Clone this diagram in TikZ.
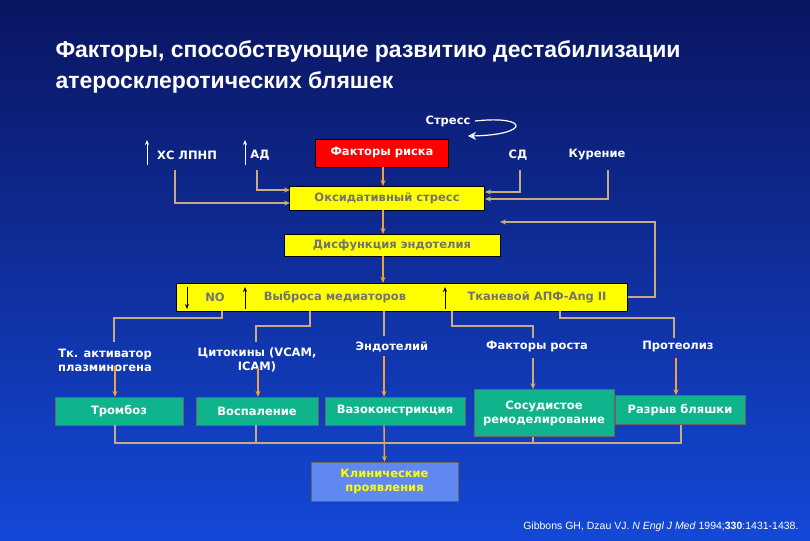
\documentclass[tikz,border=0pt]{standalone}
\usepackage{fontspec}
\setmainfont{Liberation Sans}
\newfontfamily\vfont{DejaVu Sans}
\usetikzlibrary{arrows.meta}
\definecolor{bgtop}{HTML}{0A1560}
\definecolor{bgbot}{HTML}{1448D8}
\definecolor{ylw}{HTML}{FFFF00}
\definecolor{grn}{HTML}{10B48C}
\definecolor{org}{HTML}{F0A040}
\definecolor{tan}{HTML}{C8AC80}
\definecolor{clin}{HTML}{6088F0}
\begin{document}
\begin{tikzpicture}[x=1pt,y=-1pt,
  fnt/.style={font=\vfont\bfseries\fontsize{11.5}{14}\selectfont},
  lbl/.style={fnt,text=white,align=center},
  ybox/.style={fnt,draw=black,fill=ylw,text=gray!90!black,minimum height=24pt,inner sep=0pt},
  gbox/.style={fnt,draw=black!60,fill=grn,text=white,align=center,inner sep=0pt},
  ln/.style={tan,line width=1.2pt},
  arr/.style={org,line width=1.4pt,-{Stealth[length=6pt,width=5pt]}},
  tarr/.style={tan,line width=1.2pt,-{Stealth[length=6pt,width=5pt]}},
  bar/.style={black,line width=1pt,-{Stealth[length=5pt,width=4pt]}},
  wbar/.style={white,line width=1pt,-{Stealth[length=5pt,width=4pt]}}]
\shade[top color=bgtop,bottom color=bgbot] (0,0) rectangle (810,540);
\useasboundingbox (0,0) rectangle (810,540);
% title
\node[anchor=west,text=white,font=\bfseries\fontsize{23}{31}\selectfont,align=left] (title) at (52,67) {Факторы, способствующие развитию дестабилизации\\атеросклеротических бляшек};
% top row
\node[lbl] (stress) at (448,121) {Стресс};
\draw[white,line width=1.2pt,-{Stealth[length=8pt,width=8pt,open]}] (475,121) .. controls (530,115) and (530,135) .. (468,136);
\node[lbl] (hs) at (187,155) {ХС ЛПНП};
\draw[wbar] (147,165) -- (147,140);
\node[lbl] (ad) at (260,155) {АД};
\draw[wbar] (245,165) -- (245,140);
\node[fnt,draw=black,fill=red,text=white,minimum width=133pt,minimum height=28pt,inner sep=0pt] (risk) at (382,153) {Факторы риска};
\node[lbl] (sd) at (518,155) {СД};
\node[lbl] (kur) at (597,155) {Курение};
\node[ybox,minimum width=195pt] (ox) at (387,198) {Оксидативный стресс};
\node[ybox,minimum width=216pt,minimum height=22pt] (dys) at (392,245) {Дисфункция эндотелия};
\node[ybox,minimum width=451pt,minimum height=28pt] (big) at (402,297) {};
\node[fnt,text=gray!90!black] (no) at (215,297) {NO};
\node[fnt,text=gray!90!black] (med) at (335,297) {Выброса медиаторов};
\node[fnt,text=gray!90!black] (apf) at (537,297) {Тканевой АПФ-Ang II};
\draw[bar] (187,287) -- (187,309);
\draw[bar] (245,309) -- (245,287);
\draw[bar] (445,309) -- (445,287);
% connectors top
\draw[arr] (risk.south -| 383,0) -- (383,186);
\draw[tarr] (175,170) -- (175,203) -- (290,203);
\draw[tarr] (257,170) -- (257,190) -- (290,190);
\draw[tarr] (520,170) -- (520,192) -- (485,192);
\draw[tarr] (608,170) -- (608,199) -- (485,199);
\draw[arr] (383,210) -- (383,234);
\draw[tarr] (big.east) -- (655,297) -- (655,222) -- (500,222);
\draw[arr] (383,256) -- (383,283);
% second row labels
\node[lbl] (tk) at (105,360) {Тк. активатор\\плазминогена};
\node[lbl] (cyt) at (257,360) {Цитокины (VCAM,\\ICAM)};
\node[lbl] (endo) at (392,347) {Эндотелий};
\node[lbl] (fr) at (537,347) {Факторы роста};
\node[lbl] (prot) at (678,347) {Протеолиз};
\draw[ln] (222,311) -- (222,318) -- (114,318) -- (114,342);
\draw[ln] (310,311) -- (310,326) -- (256,326) -- (256,342);
\draw[ln] (384,311) -- (384,336);
\draw[ln] (452,311) -- (452,326) -- (533,326) -- (533,338);
\draw[ln] (560,311) -- (560,318) -- (674,318) -- (674,338);
% green boxes
\node[gbox,minimum width=128pt,minimum height=28pt] (tromb) at (119,411) {Тромбоз};
\node[gbox,minimum width=122pt,minimum height=28pt] (vosp) at (257,411) {Воспаление};
\node[gbox,minimum width=140pt,minimum height=28pt] (vaso) at (395,411) {Вазоконстрикция};
\node[gbox,minimum width=140pt,minimum height=47pt] (remod) at (544,413) {Сосудистое\\ремоделирование};
\node[gbox,minimum width=130pt,minimum height=29pt] (razr) at (680,410) {Разрыв бляшки};
\draw[arr] (115,366) -- (tromb.north -| 115,0);
\draw[arr] (258,368) -- (vosp.north -| 258,0);
\draw[arr] (384,356) -- (vaso.north -| 384,0);
\draw[tarr] (533,358) -- (remod.north -| 533,0);
\draw[arr] (676,358) -- (razr.north -| 676,0);
% bottom
\draw[ln] (tromb.south -| 115,0) -- (115,443) -- (681,443) -- (razr.south -| 681,0);
\draw[ln] (vosp.south -| 256,0) -- (256,443);
\draw[ln] (remod.south -| 533,0) -- (533,443);
\node[fnt,draw=black!60,fill=clin,text=ylw,align=center,minimum width=147pt,minimum height=39pt,inner sep=0pt] (clinb) at (384.5,481.5) {Клинические\\проявления};
\draw[arr] (vaso.south -| 384,0) -- (clinb.north);
\node[anchor=east,text=white,font=\fontsize{10.5}{12}\selectfont] (cite) at (802,527) {Gibbons GH, Dzau VJ. \textit{N Engl J Med} 1994;\textbf{330}:1431-1438.};
\end{tikzpicture}
\end{document}
